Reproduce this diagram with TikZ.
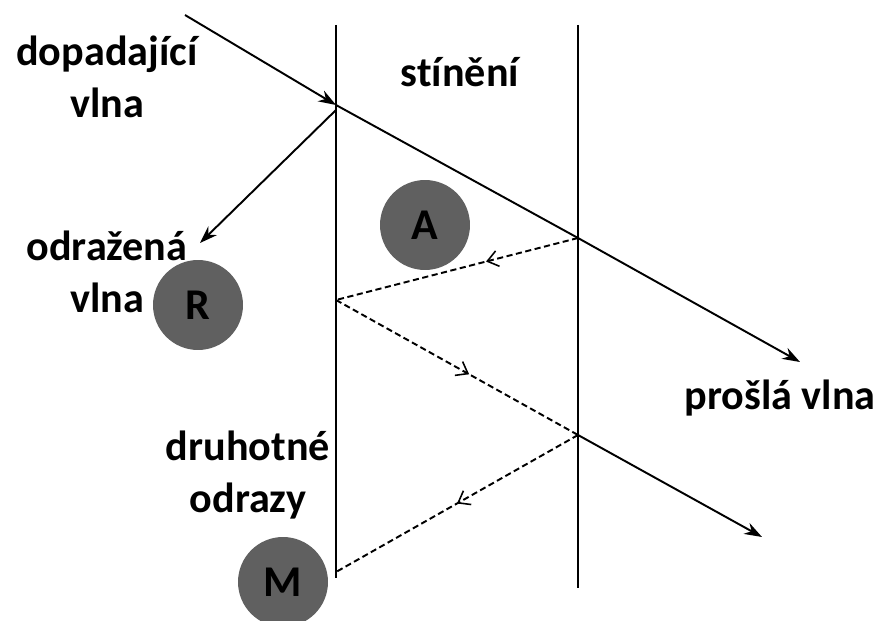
\documentclass[tikz,border=0pt]{standalone}
\usepackage{fontspec}
\setmainfont{Carlito}[Ligatures=NoCommon]
\usetikzlibrary{arrows.meta,positioning,calc,decorations.markings}
\definecolor{spotgray}{RGB}{96,96,96}

\begin{document}
\begin{tikzpicture}[x=0.02cm, y=-0.02cm,
    wall/.style={line width=1.3pt},
    wave/.style={line width=1.1pt, -{Stealth[length=10pt, width=7pt]}},
    echo/.style={line width=1.1pt, dash pattern=on 3.5pt off 2pt},
    midarr/.style={postaction={decorate, decoration={markings,
        mark=at position #1 with {\arrow[solid, line width=0.9pt]{Straight Barb[length=6pt, width=9pt]}}}}},
    lbl/.style={font=\fontsize{24}{30}\selectfont\bfseries, align=center, inner sep=0pt},
    spot/.style={circle, fill=spotgray, minimum size=1.8cm, inner sep=0pt,
                 font=\fontsize{25}{30}\selectfont\bfseries},
  ]
  \useasboundingbox (0,0) rectangle (879,621);

  % Shield walls
  \coordinate (w1top) at (336,25);
  \coordinate (w1bot) at (336,578);
  \coordinate (w2top) at (578,25);
  \coordinate (w2bot) at (578,588);
  \draw[wall] (w1top) -- (w1bot);
  \draw[wall] (w2top) -- (w2bot);

  % Points where the wave meets the walls
  \coordinate (src) at (185,15);
  \coordinate (hit1) at (336,105);
  \coordinate (hit2) at (578,238);
  \coordinate (bounce) at (336,300);
  \coordinate (hit3) at (578,435);
  \coordinate (mend) at (336,572);
  \coordinate (refl) at (200,243);
  \coordinate (out1) at (800,362);
  \coordinate (out2) at (762,537);

  % Loss spots
  \node[spot] (A) at (425,225) {A};
  \node[spot] (R) at (198,305) {R};
  \node[spot] (M) at (283,582) {M};

  % Labels
  \node[lbl] (inc) at (107,77) {dopadající\\vlna};
  \node[lbl] (shd) at (460,72) {stínění};
  \node[lbl] (rfl) at (107,272) {odražená\\vlna};
  \node[lbl] (trn) at (780,398) {prošlá vlna};
  \node[lbl] (sec) at (248,475) {druhotné\\odrazy};

  % Waves
  \draw[wave] (src) -- (hit1);
  \draw[wave] (hit1) -- (hit2) -- (out1);
  \draw[wave] ($(hit1)+(0,5)$) -- (refl);
  \draw[echo, midarr=0.38] (hit2) -- (bounce);
  \draw[echo, midarr=0.55] (bounce) -- (hit3);
  \draw[wave] (hit3) -- (out2);
  \draw[echo, midarr=0.5] (hit3) -- (mend);
\end{tikzpicture}
\end{document}
